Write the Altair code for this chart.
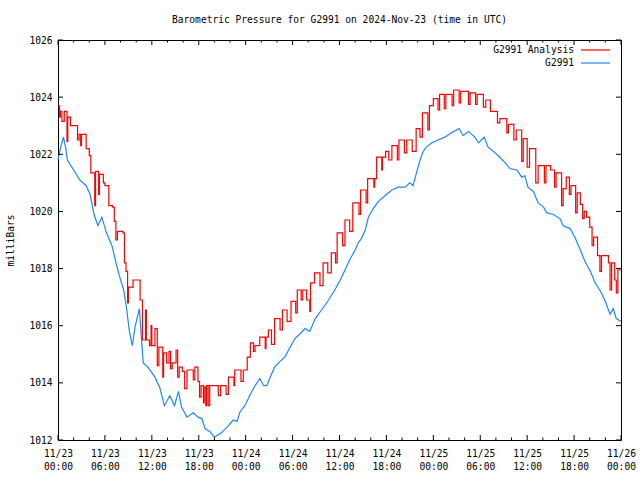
import altair as alt
import pandas as pd

# ---- data (hours since 2024-11-23 00:00 UTC, millibars) ----
blue_h = [0.0, 0.3, 0.7, 1.0, 1.2, 2.0, 2.8, 3.6, 4.1, 4.6, 5.1, 5.6, 6.2, 6.9, 7.5, 7.9,
          8.4, 8.8, 9.1, 9.5, 9.85, 10.4, 10.6, 10.9, 11.5, 12.4, 13.0, 13.6, 14.3, 14.9,
          15.4, 15.8, 16.5, 17.3, 17.9, 18.4, 18.8, 19.4, 20.0, 20.9, 21.8, 22.4, 22.9,
          23.3, 23.9, 24.6, 25.2, 25.8, 26.3, 26.7, 27.3, 27.7, 28.4, 29.0, 29.7, 30.3,
          30.9, 31.6, 32.2, 32.9, 33.7, 34.6, 35.4, 36.1, 36.7, 37.3, 38.0, 38.4, 38.8,
          39.3, 39.7, 40.3, 41.0, 41.8, 42.7, 43.5, 44.4, 45.0, 45.4, 45.9, 46.3, 46.7,
          47.1, 47.8, 48.6, 49.5, 50.3, 51.3, 51.8, 52.5, 53.3, 53.8, 54.5, 55.0, 55.7,
          56.3, 57.2, 57.8, 58.7, 59.3, 59.7, 60.1, 60.8, 61.4, 62.1, 62.5, 63.3, 64.2,
          64.6, 65.5, 66.1, 66.8, 67.4, 68.1, 68.7, 69.4, 70.0, 70.6, 71.0, 71.4, 72.0]
blue_v = [1021.8, 1022.2, 1022.6, 1022.2, 1021.8, 1021.45, 1021.1, 1020.9, 1020.6, 1019.9,
          1019.5, 1019.8, 1019.25, 1018.8, 1018.1, 1017.7, 1017.25, 1016.55, 1015.85, 1015.3,
          1015.95, 1016.6, 1015.85, 1014.7, 1014.55, 1014.2, 1013.85, 1013.2, 1013.55, 1013.2,
          1013.7, 1013.15, 1012.8, 1012.95, 1012.8, 1012.75, 1012.4, 1012.3, 1012.1, 1012.25,
          1012.5, 1012.7, 1012.65, 1013.0, 1013.2, 1013.6, 1013.9, 1014.15, 1013.9, 1013.9,
          1014.3, 1014.55, 1014.75, 1014.9, 1015.25, 1015.55, 1015.7, 1015.9, 1015.8, 1016.25,
          1016.55, 1016.9, 1017.25, 1017.6, 1017.95, 1018.3, 1018.65, 1018.9, 1019.05,
          1019.35, 1019.8, 1020.1, 1020.35, 1020.55, 1020.75, 1020.85, 1020.85, 1021.0,
          1020.9, 1021.4, 1021.8, 1022.1, 1022.25, 1022.4, 1022.5, 1022.6, 1022.75, 1022.9,
          1022.65, 1022.8, 1022.6, 1022.4, 1022.6, 1022.25, 1022.1, 1021.95, 1021.7, 1021.5,
          1021.45, 1021.2, 1021.25, 1020.85, 1020.7, 1020.3, 1020.15, 1019.95, 1019.9,
          1019.75, 1019.5, 1019.4, 1019.1, 1018.65, 1018.25, 1017.9, 1017.5, 1017.2,
          1016.85, 1016.4, 1016.6, 1016.25, 1016.15]

red_h = [0.0, 0.2, 0.3, 0.5, 0.8, 1.15, 1.25, 1.6, 2.5, 2.7, 2.9, 3.0, 3.6, 4.0, 4.2, 4.7,
         4.8, 5.2, 5.3, 5.8, 6.0, 6.5, 7.0, 7.2, 7.4, 7.6, 8.3, 8.5, 8.7, 8.9, 9.0, 9.6,
         10.5, 10.8, 11.2, 11.3, 11.7, 11.9, 12.0, 12.4, 12.7, 12.9, 13.4, 13.5, 13.9, 14.2,
         14.4, 14.6, 15.1, 15.3, 15.5, 15.9, 16.2, 16.5, 17.3, 17.5, 17.9, 18.1, 18.3, 18.6,
         18.7, 18.9, 19.0, 19.2, 19.4, 20.5, 20.8, 21.5, 21.8, 22.5, 22.6, 23.4, 23.7, 24.2,
         24.6, 25.0, 25.2, 25.8, 26.5, 26.6, 26.9, 27.3, 27.7, 28.4, 28.7, 29.3, 29.8, 30.4,
         30.6, 31.1, 31.3, 31.8, 32.2, 32.3, 32.8, 33.5, 33.9, 34.5, 34.95, 35.5, 35.7, 36.4,
         36.7, 37.3, 37.7, 38.5, 38.7, 39.4, 39.6, 40.4, 40.5, 40.75, 41.4, 41.5, 41.9, 42.3,
         42.7, 43.4, 43.6, 44.3, 44.6, 45.3, 45.8, 46.3, 46.6, 47.3, 47.5, 48.0, 48.6, 48.8,
         49.4, 49.6, 50.4, 50.6, 51.3, 51.5, 52.5, 52.7, 53.4, 53.6, 54.4, 54.7, 55.3, 56.2,
         56.5, 57.4, 57.6, 58.3, 58.6, 59.3, 59.5, 60.0, 60.3, 61.1, 61.4, 62.2, 62.4, 63.0,
         63.5, 63.7, 64.4, 64.6, 65.0, 65.4, 65.6, 66.2, 66.4, 66.8, 67.1, 67.3, 67.6, 68.0,
         68.3, 68.5, 69.0, 69.3, 69.5, 70.4, 70.6, 70.8, 71.2, 71.4, 71.6, 72.0]
red_v = [1023.7, 1023.3, 1023.5, 1023.15, 1023.5, 1022.45, 1023.3, 1023.0, 1022.5, 1022.7,
         1022.3, 1022.7, 1022.2, 1021.95, 1021.35, 1020.2, 1021.4, 1020.6, 1021.3, 1021.0,
         1020.9, 1020.2, 1020.15, 1019.65, 1019.0, 1019.3, 1019.25, 1018.2, 1017.9, 1016.8,
         1017.35, 1017.6, 1016.9, 1015.5, 1016.55, 1015.5, 1015.3, 1016.0, 1015.3, 1015.9,
         1014.6, 1015.25, 1014.2, 1015.05, 1014.7, 1015.1, 1014.5, 1014.7, 1015.15, 1014.2,
         1014.55, 1014.4, 1013.8, 1014.45, 1014.1, 1014.55, 1014.05, 1013.5, 1013.9, 1013.3,
         1013.85, 1013.2, 1013.9, 1013.2, 1013.9, 1013.55, 1013.9, 1013.6, 1014.2, 1013.9,
         1014.45, 1014.05, 1014.45, 1014.9, 1015.4, 1015.1, 1015.3, 1015.6, 1015.2, 1015.6,
         1015.85, 1015.35, 1016.25, 1015.85, 1016.55, 1016.15, 1016.85, 1016.45, 1017.25,
         1016.9, 1017.25, 1016.9, 1016.5, 1017.5, 1017.85, 1017.4, 1018.2, 1017.85, 1018.55,
         1018.2, 1019.25, 1018.8, 1019.7, 1019.3, 1020.3, 1019.9, 1020.75, 1020.3, 1021.15,
         1020.85, 1021.15, 1021.9, 1021.45, 1021.9, 1022.1, 1021.8, 1022.3, 1021.8, 1022.5,
         1022.05, 1022.5, 1022.1, 1022.9, 1022.6, 1023.45, 1022.85, 1023.7, 1023.95, 1023.55,
         1024.1, 1023.6, 1024.1, 1023.7, 1024.25, 1023.8, 1024.2, 1023.75, 1024.15, 1023.75,
         1024.1, 1023.65, 1023.9, 1023.5, 1023.1, 1023.25, 1022.75, 1023.05, 1022.5, 1022.85,
         1021.75, 1022.55, 1021.55, 1022.2, 1021.0, 1021.6, 1021.0, 1021.6, 1021.45, 1020.85,
         1021.35, 1020.2, 1020.8, 1021.2, 1020.6, 1020.9, 1019.95, 1020.65, 1020.25, 1019.75,
         1020.0, 1019.8, 1019.45, 1018.8, 1019.1, 1018.45, 1017.9, 1018.45, 1018.2, 1017.25,
         1018.2, 1017.6, 1017.15, 1017.95, 1017.95]

x_major = [0, 6, 12, 18, 24, 30, 36, 42, 48, 54, 60, 66, 72]
x_minor = [2, 4, 8, 10, 14, 16, 20, 22, 26, 28, 32, 34, 38, 40, 44, 46, 50, 52, 56, 58,
           62, 64, 68, 70]
y_major = [1012, 1014, 1016, 1018, 1020, 1022, 1024, 1026]

series_names = ["G2991 Analysis", "G2991"]
series_colors = ["#ff0000", "#1a88ff"]

W, H = 563, 400
FONT = "DejaVu Sans Mono"
FS = 9.6

red_df = pd.DataFrame({"h": red_h, "p": red_v})
blue_df = pd.DataFrame({"h": blue_h, "p": blue_v})
xmaj_df = pd.DataFrame({"h": x_major})
xmin_df = pd.DataFrame({"h": x_minor})
ymaj_df = pd.DataFrame({"p": y_major})

xscale = alt.Scale(domain=[0, 72], nice=False, zero=False)
yscale = alt.Scale(domain=[1012, 1026], nice=False, zero=False)

label_expr = ("['11/' + (23 + floor(datum.value / 24)), "
              "(datum.value % 24 < 10 ? '0' : '') + (datum.value % 24) + ':00']")

xaxis = alt.Axis(values=x_major, labelExpr=label_expr, ticks=False, domain=False,
                 grid=False, labelFont=FONT, labelFontSize=FS, labelColor="black",
                 labelPadding=8, labelLineHeight=13, labelBaseline="top",
                 labelFlush=False, labelOverlap=False)
yaxis = alt.Axis(values=y_major, format="d", ticks=False, domain=False, grid=False,
                 labelFont=FONT, labelFontSize=FS, labelColor="black",
                 labelPadding=6, titleFont=FONT, titleFontSize=FS,
                 titleFontWeight="normal", titleColor="black",
                 titleX=-48, titleY=H / 2, titleAlign="center",
                 titleBaseline="middle", titleAngle=270)

X = alt.X("h:Q", scale=xscale, title=None, axis=xaxis)
Y = alt.Y("p:Q", scale=yscale, title="milliBars", axis=yaxis)

red_line = alt.Chart(red_df).mark_line(
    interpolate="step-after", color=series_colors[0], strokeWidth=1.2
).encode(x=X, y=Y)

blue_line = alt.Chart(blue_df).mark_line(
    color=series_colors[1], strokeWidth=1.2
).encode(x=X, y=Y)


def xticks(df, y0, y1):
    return alt.Chart(df).mark_rule(color="black", strokeWidth=1).encode(
        x=X, y=alt.value(y0), y2=alt.value(y1))


def yticks(x0, x1):
    return alt.Chart(ymaj_df).mark_rule(color="black", strokeWidth=1).encode(
        y=Y, x=alt.value(x0), x2=alt.value(x1))


ticks = [
    xticks(xmaj_df, H, H - 5), xticks(xmaj_df, 0, 5),
    xticks(xmin_df, H, H - 2.5), xticks(xmin_df, 0, 2.5),
    yticks(0, 5), yticks(W, W - 5),
]

legend_rows = [10, 23]
legend_layers = []
for name, color, ly in zip(series_names, series_colors, legend_rows):
    one = pd.DataFrame({"name": [name]})
    legend_layers.append(
        alt.Chart(one).mark_text(align="right", baseline="middle", font=FONT,
                                 fontSize=FS, color="black")
        .encode(x=alt.value(516), y=alt.value(ly), text="name:N"))
    legend_layers.append(
        alt.Chart(one).mark_rule(strokeWidth=1.2, color=color)
        .encode(x=alt.value(523), x2=alt.value(552), y=alt.value(ly)))

chart = alt.layer(red_line, blue_line, *ticks, *legend_layers).properties(
    width=W, height=H,
    title=alt.TitleParams("Barometric Pressure for G2991 on 2024-Nov-23 (time in UTC)",
                          font=FONT, fontSize=FS, fontWeight="normal", color="black",
                          anchor="middle", baseline="alphabetic", offset=2),
    padding={"left": 58, "top": 40, "right": 19, "bottom": 40},
    autosize=alt.AutoSizeParams(type="none"),
    background="white",
).configure_view(stroke="black", strokeWidth=1)

chart.save("out.html", embed_options={"renderer": "svg", "actions": False})
